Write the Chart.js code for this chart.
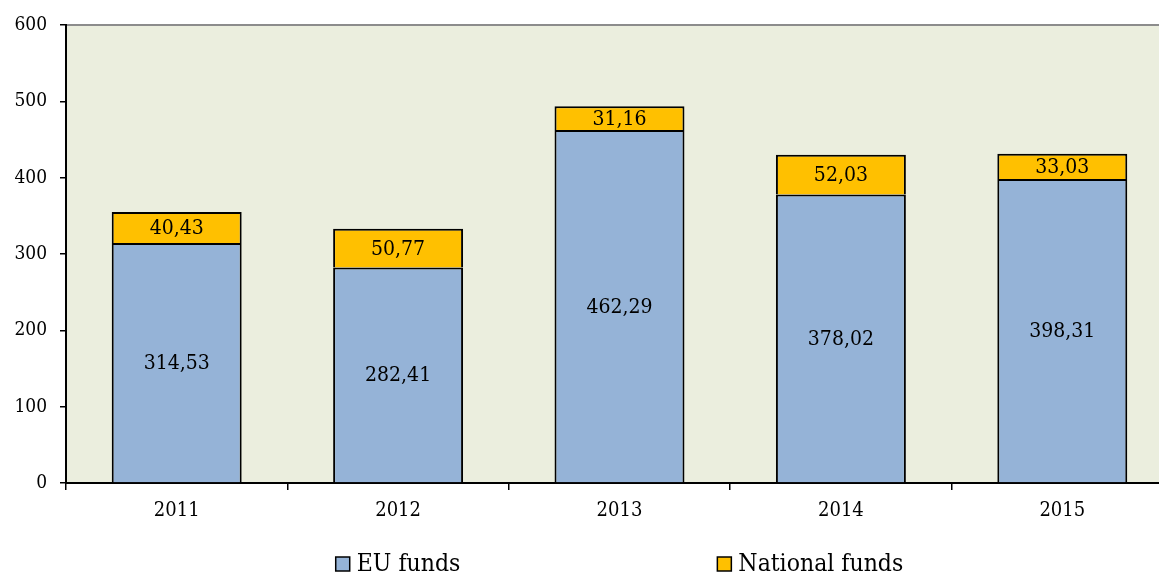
<!DOCTYPE html>
<html><head><meta charset="utf-8">
<script src="https://cdn.jsdelivr.net/npm/chart.js@4"></script>
<style>html,body{margin:0;padding:0;overflow:hidden;background:#fff}</style>
</head><body>
<canvas id="c" width="1180" height="575" style="display:block;width:1180px;height:575px"></canvas>
<script>
const categories = ['2011', '2012', '2013', '2014', '2015'];
const euFunds = [314.53, 282.41, 462.29, 378.02, 398.31];
const nationalFunds = [40.43, 50.77, 31.16, 52.03, 33.03];
const yTicks = [0, 100, 200, 300, 400, 500, 600];
const seriesNames = ['EU funds', 'National funds'];
const seriesColors = ['#95B3D7', '#FFC000'];

const FONT = '"DejaVu Serif Condensed", "DejaVu Serif", serif';

const bgPlugin = {
  id: 'bg',
  beforeDraw(chart) {
    const {ctx, chartArea: a} = chart;
    ctx.save();
    ctx.fillStyle = '#EBEEDE';
    ctx.fillRect(a.left, a.top, a.right - a.left, a.bottom - a.top);
    ctx.strokeStyle = '#8C8C8C';
    ctx.lineWidth = 2;
    ctx.beginPath();
    ctx.moveTo(a.left, a.top);
    ctx.lineTo(a.right, a.top);
    ctx.stroke();
    ctx.restore();
  }
};

const labelPlugin = {
  id: 'barLabels',
  afterDatasetsDraw(chart) {
    const ctx = chart.ctx;
    ctx.save();
    ctx.font = '21px ' + FONT;
    ctx.fillStyle = '#000';
    ctx.textAlign = 'center';
    ctx.textBaseline = 'middle';
    chart.data.datasets.forEach((ds, di) => {
      const meta = chart.getDatasetMeta(di);
      meta.data.forEach((bar, i) => {
        const v = ds.data[i];
        const y = (bar.y + bar.base) / 2;
        ctx.fillText(v.toFixed(2).replace('.', ','), bar.x, y + 1);
      });
    });
    ctx.restore();
  }
};

const legendPlugin = {
  id: 'customLegend',
  afterDraw(chart) {
    const ctx = chart.ctx;
    const a = chart.chartArea;
    ctx.save();
    ctx.font = '24.5px ' + FONT;
    const box = 14, gapText = 7, gapItems = 257;
    const widths = chart.data.datasets.map(ds => box + gapText + ctx.measureText(ds.label).width);
    const total = widths.reduce((s, w) => s + w, 0) + gapItems * (widths.length - 1);
    let x = (a.left + a.right) / 2 - total / 2;
    const yc = 564, base = 570.5;
    chart.data.datasets.forEach((ds, i) => {
      ctx.fillStyle = ds.backgroundColor;
      ctx.fillRect(x, yc - box / 2, box, box);
      ctx.strokeStyle = '#000';
      ctx.lineWidth = 1.5;
      ctx.strokeRect(x, yc - box / 2, box, box);
      ctx.fillStyle = '#000';
      ctx.textAlign = 'left';
      ctx.textBaseline = 'alphabetic';
      ctx.fillText(ds.label, x + box + gapText, base);
      x += widths[i] + gapItems;
    });
    ctx.restore();
  }
};

new Chart(document.getElementById('c'), {
  type: 'bar',
  data: {
    labels: categories,
    datasets: [
      {label: seriesNames[0], data: euFunds, backgroundColor: seriesColors[0], borderColor: '#000', borderWidth: 2, categoryPercentage: 1, barPercentage: 0.587, stack: 's'},
      {label: seriesNames[1], data: nationalFunds, backgroundColor: seriesColors[1], borderColor: '#000', borderWidth: 2, categoryPercentage: 1, barPercentage: 0.587, stack: 's'}
    ]
  },
  options: {
    responsive: false,
    animation: false,
    layout: {padding: {top: 25, right: 7, bottom: 47, left: 0}},
    plugins: {legend: {display: false}, tooltip: {enabled: false}},
    scales: {
      x: {
        stacked: true,
        z: 1,
        grid: {offset: true, drawOnChartArea: false, drawTicks: true, tickLength: 7, color: '#000', lineWidth: 1.5},
        border: {display: true, color: '#000', width: 2},
        ticks: {color: '#000', font: {family: FONT, size: 20}, padding: 9, maxRotation: 0},
        afterFit(s) { s.height = 45; }
      },
      y: {
        stacked: true,
        min: 0, max: 600,
        afterBuildTicks(s) { s.ticks = yTicks.map(v => ({value: v})); },
        grid: {drawOnChartArea: false, drawTicks: true, tickLength: 6, color: '#000', lineWidth: 1.5},
        border: {display: true, color: '#000', width: 2},
        ticks: {color: '#000', font: {family: FONT, size: 19}, padding: 13},
        afterFit(s) { s.width = 66; }
      }
    }
  },
  plugins: [bgPlugin, labelPlugin, legendPlugin]
});
</script>
</body></html>
